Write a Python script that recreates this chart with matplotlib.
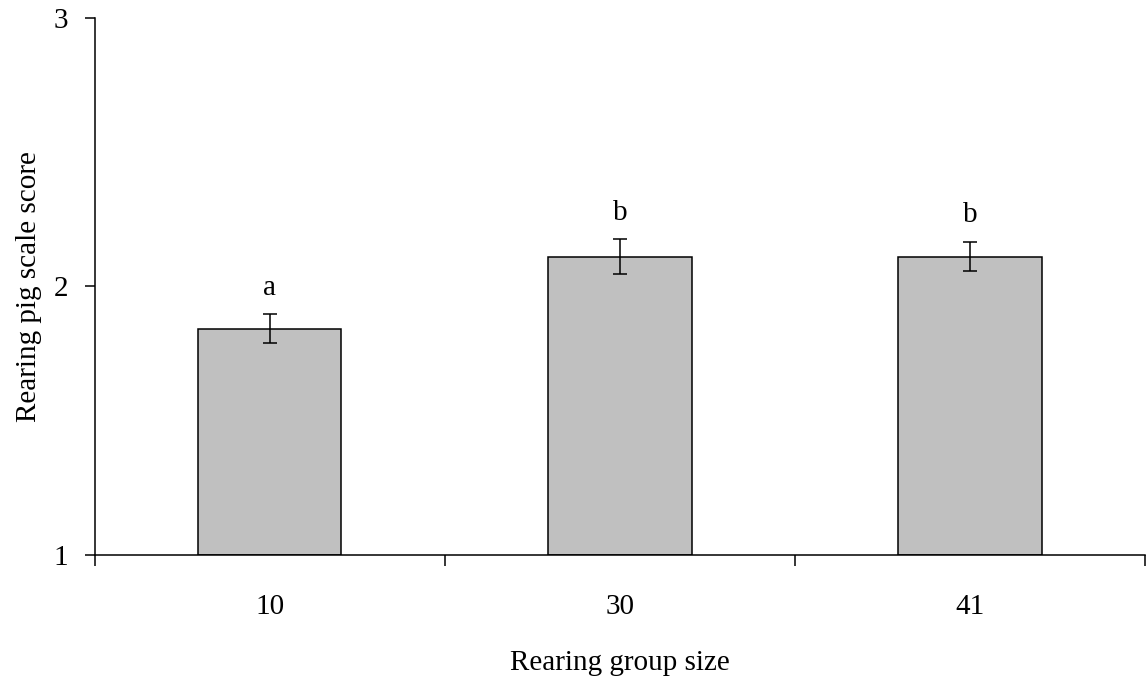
import matplotlib
matplotlib.use("Agg")
import matplotlib.pyplot as plt
import numpy as np

# data
groups = ["10", "30", "41"]
scores = [1.842, 2.111, 2.111]
errors = [0.054, 0.065, 0.055]
letters = ["a", "b", "b"]

plt.rcParams["font.family"] = ["Liberation Serif", "DejaVu Serif"]
fs = 21

fig = plt.figure(figsize=(11.46, 6.76), dpi=100)
ax = fig.add_axes([0.0825, 0.179, 0.9167, 0.7944])

x = np.arange(len(groups))
ax.bar(x, np.array(scores) - 1, bottom=1, width=0.41, color="#c0c0c0",
       edgecolor="black", linewidth=1.1, zorder=2)
ax.errorbar(x, scores, yerr=errors, fmt="none", ecolor="black",
            elinewidth=1.1, capsize=5, capthick=1.1, zorder=3)

# significance letters above error bars
for xi, s, e, lab in zip(x, scores, errors, letters):
    ax.annotate(lab, (xi, s + e), xytext=(0, 14), textcoords="offset points",
                ha="center", va="baseline", fontsize=fs)

ax.set_xlim(-0.5, 2.5)
ax.set_ylim(1, 3)
ax.set_yticks([1, 2, 3])
ax.set_xticks([-0.5, 0.5, 1.5, 2.5])
ax.set_xticklabels([])
ax.set_xticks(x, minor=True)
ax.set_xticklabels(groups, minor=True)

ax.tick_params(axis="x", which="major", direction="out", length=8, width=1.1)
ax.tick_params(axis="x", which="minor", length=0, pad=28, labelsize=fs)
ax.tick_params(axis="y", direction="out", length=7.2, width=1.1, pad=12, labelsize=fs)

for side in ["top", "right"]:
    ax.spines[side].set_visible(False)
for side in ["left", "bottom"]:
    ax.spines[side].set_linewidth(1.1)

ax.set_xlabel("Rearing group size", fontsize=fs)
ax.set_ylabel("Rearing pig scale score", fontsize=fs)
ax.xaxis.set_label_coords(0.5, -0.176)
ax.yaxis.set_label_coords(-0.05, 0.5)

fig.savefig("out.png", dpi=100)
